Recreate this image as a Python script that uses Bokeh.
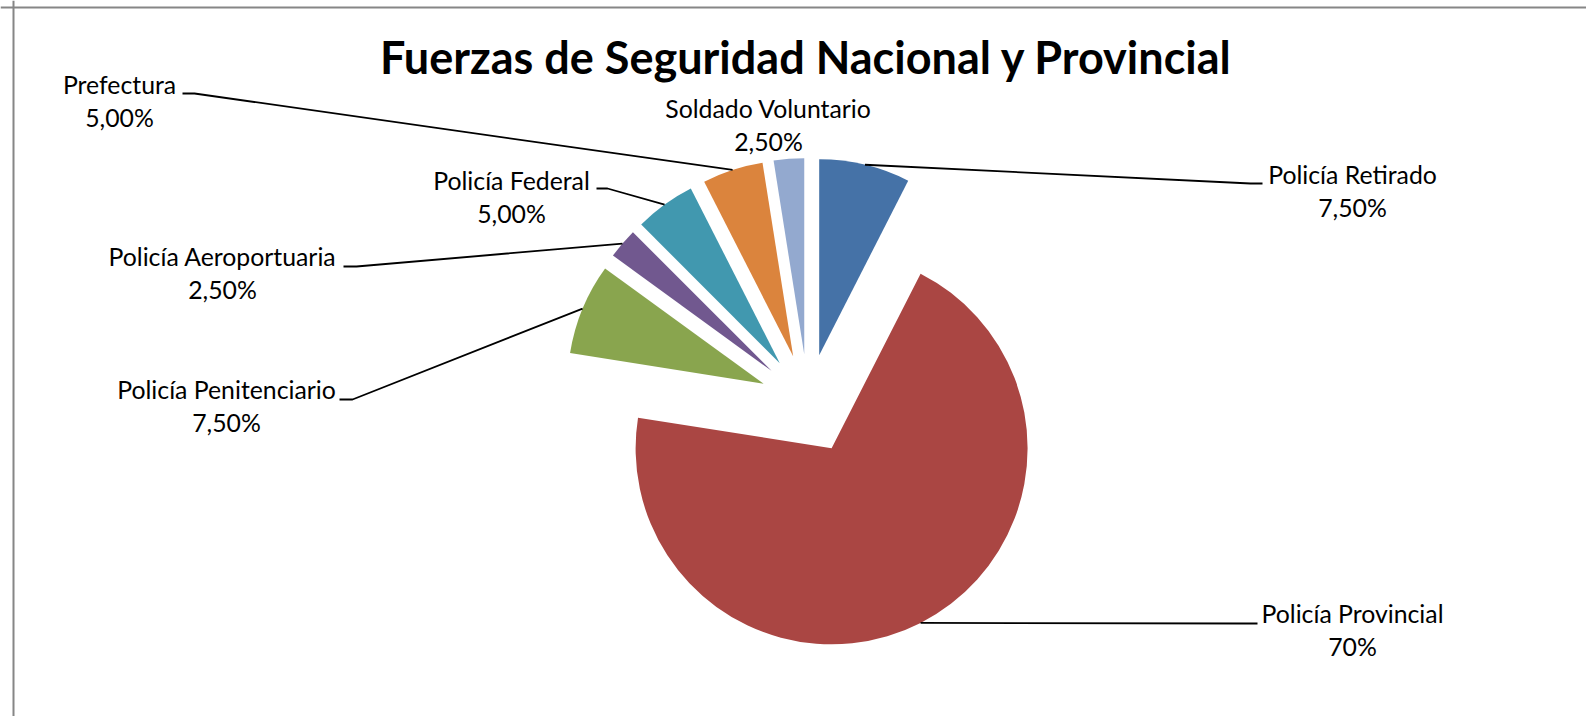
import math
from bokeh.plotting import figure
from bokeh.models import Range1d, Span, ColumnDataSource
from bokeh.core.properties import value
from bokeh.embed import file_html
from bokeh.resources import INLINE

# ---------------- data ----------------
categories = ["Policía Retirado", "Policía Provincial", "Policía Penitenciario",
              "Policía Aeroportuaria", "Policía Federal", "Prefectura", "Soldado Voluntario"]
values = [7.5, 70.0, 7.5, 2.5, 5.0, 5.0, 2.5]
pct_labels = ["7,50%", "70%", "7,50%", "2,50%", "5,00%", "5,00%", "2,50%"]
title_text = "Fuerzas de Seguridad Nacional y Provincial"

# ---------------- style / layout ----------------
colors = ["#4572A7", "#AA4643", "#89A54E", "#71588F", "#4198AF", "#DB843D", "#93A9CF"]
W, H = 1586, 716
OX, OY = 0, 0                      # canvas offset on the page
CENTER = (807.5, 401.5)            # pie centre in page pixels
RADIUS = 196
EXPLODE = [48, 52, 48, 48, 48, 48, 48]
FONT = "Lato"
LABEL_SIZE = "24.8px"
LINE_GAP = 33
TEXT_SHIFT = -2
# label first-line centre (page px)
label_pos = [(1352, 176), (1352, 615), (226, 391), (222, 258), (511, 182), (119, 86), (768, 110)]
# leader: (end_x, y, elbow_x) in page px or None
leaders = [(1262, 183, 1250), (1257, 623, 1245), (339, 399, 352), (343, 266, 356),
           (596, 188, 607), (182, 93, 194), None]


def dx(xp):
    return xp - OX


def dy(yp):
    return H - (yp - OY)


p = figure(width=W, height=H, x_range=Range1d(0, W), y_range=Range1d(0, H),
           min_border=0, toolbar_location=None, output_backend="svg")
p.axis.visible = False
p.grid.visible = False
p.outline_line_color = None
p.background_fill_color = "white"
p.border_fill_color = "white"

total = sum(values)
cx, cy = dx(CENTER[0]), dy(CENTER[1])
xs, ys, starts, ends, mids_x, mids_y = [], [], [], [], [], []
acc = 0.0
for v, e in zip(values, EXPLODE):
    s_deg = acc / total * 360.0
    acc += v
    e_deg = acc / total * 360.0
    m = math.radians((s_deg + e_deg) / 2)
    px, py = cx + e * math.sin(m), cy + e * math.cos(m)
    xs.append(px)
    ys.append(py)
    starts.append(math.radians(90 - s_deg))
    ends.append(math.radians(90 - e_deg))
    mids_x.append(px + RADIUS * math.sin(m))
    mids_y.append(py + RADIUS * math.cos(m))

src = ColumnDataSource(dict(x=xs, y=ys, start=starts, end=ends, color=colors, cat=categories))
p.wedge(x="x", y="y", radius=RADIUS, start_angle="start", end_angle="end",
        direction="clock", fill_color="color", line_color=None, source=src)

# leader lines
for i, ld in enumerate(leaders):
    if ld is None:
        continue
    ex, ey, elx = ld
    p.line([mids_x[i], dx(elx), dx(ex)], [mids_y[i], dy(ey), dy(ey)],
           line_color="black", line_width=1.8)

# labels
lx = [dx(a) for a, b in label_pos]
ly1 = [dy(b + TEXT_SHIFT) for a, b in label_pos]
ly2 = [dy(b + LINE_GAP + TEXT_SHIFT) for a, b in label_pos]
p.text(x=lx, y=ly1, text=categories, text_align="center", text_baseline="middle",
       text_font=value(FONT), text_font_size=LABEL_SIZE, text_color="black")
p.text(x=lx, y=ly2, text=pct_labels, text_align="center", text_baseline="middle",
       text_font=value(FONT), text_font_size=LABEL_SIZE, text_color="black")

# title
p.text(x=[dx(806)], y=[dy(56)], text=[title_text], text_align="center", text_baseline="middle",
       text_font=value(FONT), text_font_size="45px", text_font_style="bold", text_color="black")

# chart border (top and left visible)
p.add_layout(Span(location=dx(13), dimension="height", line_color="#868686", line_width=2))
p.add_layout(Span(location=dy(7), dimension="width", line_color="#868686", line_width=2))

open("out.html", "w").write(file_html(p, INLINE))
